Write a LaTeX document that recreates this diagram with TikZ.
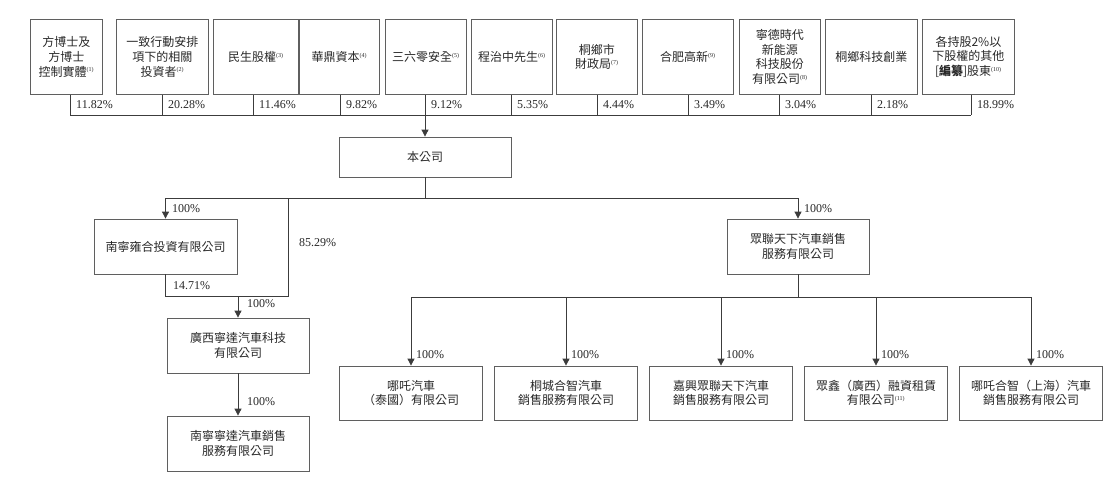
\documentclass[tikz,border=0pt]{standalone}
\usepackage{fontspec}
\setmainfont{Liberation Serif}
\newfontfamily\cjk{Noto Sans CJK TC}
\usetikzlibrary{arrows.meta,calc,positioning}
\definecolor{boxline}{RGB}{95,95,95}
\definecolor{wire}{RGB}{60,60,60}
\definecolor{ink}{RGB}{40,40,40}
\newcommand{\fnote}[1]{\textsuperscript{\rmfamily\fontsize{6}{6}\selectfont(#1)}}

\begin{document}
\begin{tikzpicture}[x=1pt, y=-1pt,
  ent/.style={draw=boxline, line width=0.8pt, align=center, inner sep=2pt, text=ink,
    font=\cjk\fontsize{12}{14.7}\selectfont},
  pct/.style={anchor=west, inner sep=1pt, text=ink, font=\fontsize{12}{12}\selectfont},
  link/.style={draw=wire, line width=0.8pt},
  own/.style={link, -{Triangle[width=7pt,length=7pt]}}]
  \useasboundingbox (0,0) rectangle (1118,488);
  \foreach \n/\lx/\bw/\vx/\txt/\pc in {
    1/30/72/70/{方博士及\\方博士\\控制實體\fnote{1}}/11.82,
    2/116/92/162/{一致行動安排\\項下的相關\\投資者\fnote{2}}/20.28,
    3/213/85/253/{民生股權\fnote{3}}/11.46,
    4/299/80/340/{華鼎資本\fnote{4}}/9.82,
    5/385/81/425/{三六零安全\fnote{5}}/9.12,
    6/471/81/511/{程治中先生\fnote{6}}/5.35,
    7/556/81/597/{桐鄉市\\財政局\fnote{7}}/4.44,
    8/642/91/688/{合肥高新\fnote{9}}/3.49,
    9/739/81/779/{寧德時代\\新能源\\科技股份\\有限公司\fnote{8}}/3.04,
    10/825/92/871/{桐鄉科技創業}/2.18,
    11/922/92/971/{各持股2\%以\\下股權的其他\\\relax[\textbf{編纂}]股東\fnote{10}}/18.99}
  {
    \node[ent, anchor=north west, minimum width=\bw, minimum height=75] (s\n) at (\lx,19) {\txt};
    \coordinate (j\n) at (\vx,115);
    \draw[link] (s\n.south -| j\n) -- (j\n);
    \node[pct] (p\n) at (\vx+5,105) {\pc\%};
  }
  \draw[link] (j1) -- (j11);
  \node[ent, minimum width=172, minimum height=40] (co) at (425,157) {本公司};
  \draw[own] (j5) -- (co.north);
  \coordinate (h1) at (425,198);
  \draw[link] (co.south) -- (h1);
  \node[ent, minimum width=143, minimum height=55] (nny) at (165.5,246.5) {南寧雍合投資有限公司};
  \node[ent, minimum width=142, minimum height=55] (zl) at (798,246.5) {眾聯天下汽車銷售\\服務有限公司};
  \draw[own] (h1) -| (nny.north);
  \draw[own] (h1) -| (zl.north);
  \node[pct] at (171,209) {100\%};
  \node[pct] at (803,209) {100\%};
  \coordinate (k1) at (288,198);
  \coordinate (k2) at (288,296);
  \node[ent, minimum width=142, minimum height=55] (gx) at (238,345.5) {廣西寧達汽車科技\\有限公司};
  \node[ent, minimum width=142, minimum height=55] (nn) at (238,443.5) {南寧寧達汽車銷售\\服務有限公司};
  \draw[link] (nny.south) |- (k2) -- (k1);
  \draw[own] (gx.north |- k2) -- (gx.north);
  \draw[own] (gx) -- (nn);
  \node[pct] at (298,243) {85.29\%};
  \node[pct] at (172,286) {14.71\%};
  \node[pct] at (246,304) {100\%};
  \node[pct] at (246,402) {100\%};
  \coordinate (h2) at (798,297);
  \draw[link] (zl.south) -- (h2);
  \foreach \n/\cx/\txt in {
    1/411/{哪吒汽車\\（泰國）有限公司},
    2/566/{桐城合智汽車\\銷售服務有限公司},
    3/721/{嘉興眾聯天下汽車\\銷售服務有限公司},
    4/876/{眾鑫（廣西）融資租賃\\有限公司\fnote{11}},
    5/1031/{哪吒合智（上海）汽車\\銷售服務有限公司}}
  {
    \node[ent, minimum width=143, minimum height=54] (b\n) at (\cx,393) {\txt};
    \draw[own] (h2) -| (b\n.north);
    \node[pct] at (\cx+4,355) {100\%};
  }
\end{tikzpicture}
\end{document}
